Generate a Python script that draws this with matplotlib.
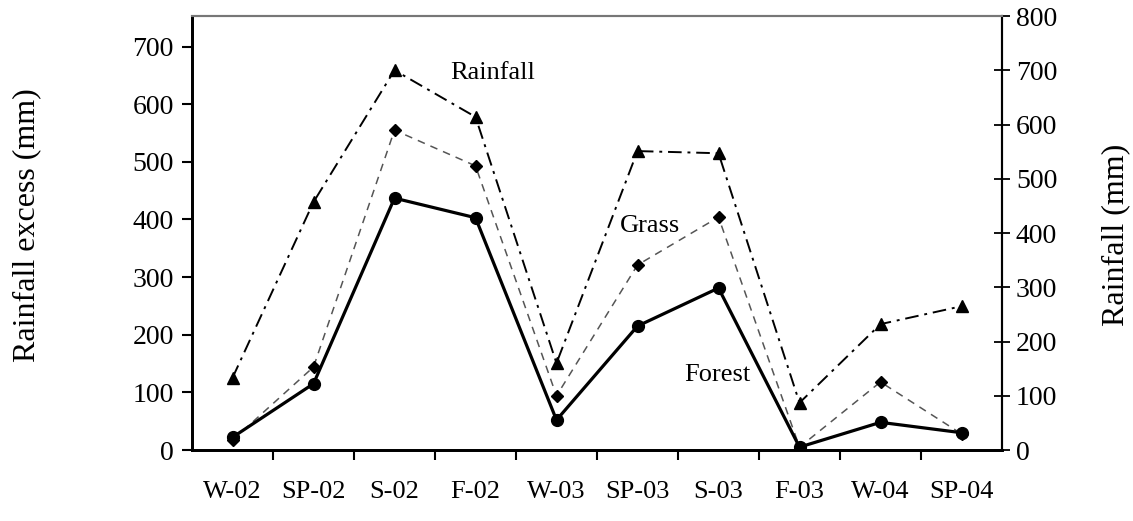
import matplotlib
matplotlib.use("Agg")
import matplotlib.pyplot as plt
import numpy as np

plt.rcParams['font.family'] = ['Liberation Serif', 'DejaVu Serif']

seasons = ["W-02", "SP-02", "S-02", "F-02", "W-03", "SP-03", "S-03", "F-03", "W-04", "SP-04"]
forest = [22, 115, 437, 403, 52, 215, 281, 5, 48, 30]
grass = [17, 144, 555, 493, 94, 321, 404, 5, 118, 28]
rainfall = [133, 457, 700, 614, 160, 551, 547, 87, 232, 265]

fig = plt.figure(figsize=(11.33, 5.21), dpi=100)
ax = fig.add_axes([192/1133, (521-450)/521, (1002-192)/1133, (450-16)/521])
ax2 = ax.twinx()

x = np.arange(len(seasons)) + 0.5

ax.plot(x, grass, color='#555555', lw=1.1, ls=(0, (5, 4)), marker='D', ms=6.5,
        mfc='black', mec='black', zorder=3)
ax.plot(x, forest, color='black', lw=2.3, ls='-', marker='o', ms=8.5,
        mfc='black', mec='black', zorder=4)
ax2.plot(x, rainfall, color='black', lw=1.4, ls=(0, (7, 3, 1.5, 3)), marker='^', ms=9,
         mfc='black', mec='black', zorder=3)

ax.set_xlim(0, 10)
ax.set_ylim(0, 753)
ax2.set_ylim(0, 800)

ax.set_xticks(x)
ax.set_xticklabels(seasons)
ax.set_xticks(np.arange(1, 10), minor=True)
ax.tick_params(axis='x', which='major', length=0, pad=22, labelsize=19)
ax.tick_params(axis='x', which='minor', length=7, width=1.5, direction='out')

ax.set_yticks(np.arange(0, 701, 100))
ax.tick_params(axis='y', which='major', length=7, width=1.5, direction='out', labelsize=20, pad=6)
ax2.set_yticks(np.arange(0, 801, 100))
ax2.tick_params(axis='y', which='major', length=12, width=1.3, direction='inout', labelsize=20, pad=4)

for a in (ax, ax2):
    a.spines['left'].set_linewidth(2)
    a.spines['bottom'].set_linewidth(2)
    a.spines['top'].set_linewidth(1.5)
    a.spines['top'].set_color('#777777')
    a.spines['right'].set_linewidth(1.5)

ax.set_ylabel("Rainfall excess (mm)", fontsize=23)
ax2.set_ylabel("Rainfall (mm)", fontsize=23)
ax.yaxis.set_label_coords((27-192)/810, (450-225)/434)
ax2.yaxis.set_label_coords((1116-192)/810, (450-235)/434)
ax.yaxis.label.set_va('center')
ax2.yaxis.label.set_va('center')

ax.text((493-192)/81, (450-73)/0.576, "Rainfall", fontsize=19, ha='center', va='center')
ax.text((650-192)/81, (450-226)/0.576, "Grass", fontsize=19, ha='center', va='center')
ax.text((717-192)/81, (450-375)/0.576, "Forest", fontsize=19, ha='center', va='center')

fig.savefig("out.png", dpi=100)
